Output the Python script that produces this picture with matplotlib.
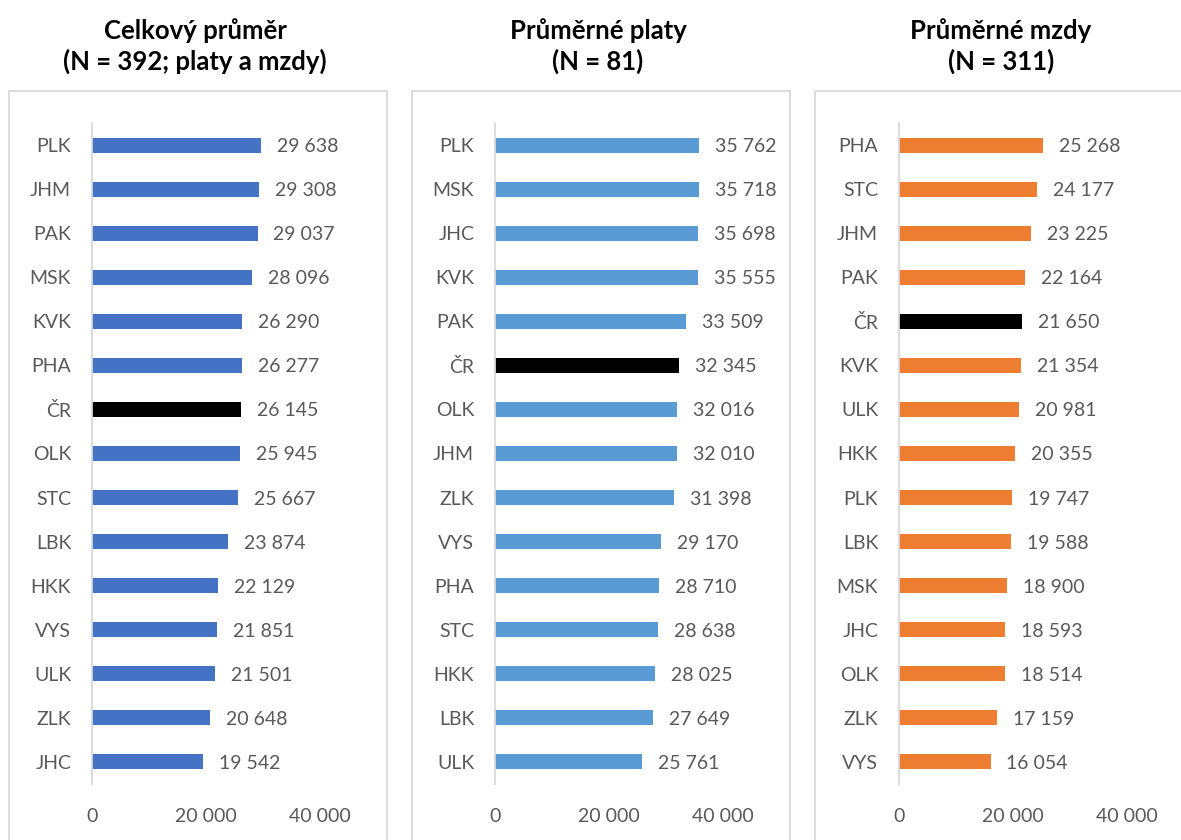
import matplotlib.pyplot as plt
from matplotlib.patches import Rectangle

# data
cats_all = ['PLK', 'JHM', 'PAK', 'MSK', 'KVK', 'PHA', 'ČR', 'OLK', 'STC', 'LBK',
            'HKK', 'VYS', 'ULK', 'ZLK', 'JHC']
vals_all = [29638, 29308, 29037, 28096, 26290, 26277, 26145, 25945, 25667, 23874,
            22129, 21851, 21501, 20648, 19542]

cats_platy = ['PLK', 'MSK', 'JHC', 'KVK', 'PAK', 'ČR', 'OLK', 'JHM', 'ZLK', 'VYS',
              'PHA', 'STC', 'HKK', 'LBK', 'ULK']
vals_platy = [35762, 35718, 35698, 35555, 33509, 32345, 32016, 32010, 31398, 29170,
              28710, 28638, 28025, 27649, 25761]

cats_mzdy = ['PHA', 'STC', 'JHM', 'PAK', 'ČR', 'KVK', 'ULK', 'HKK', 'PLK', 'LBK',
             'MSK', 'JHC', 'OLK', 'ZLK', 'VYS']
vals_mzdy = [25268, 24177, 23225, 22164, 21650, 21354, 20981, 20355, 19747, 19588,
             18900, 18593, 18514, 17159, 16054]

titles = ['Celkový průměr\n(N = 392; platy a mzdy)',
          'Průměrné platy\n(N = 81)',
          'Průměrné mzdy\n(N = 311)']
colors = ['#4472C4', '#5B9BD5', '#ED7D31']
xticks = [0, 20000, 40000]

W, H = 1181, 840
plt.rcParams['font.family'] = ['Lato', 'DejaVu Sans']
text_col = '#595959'
grid_col = '#D9D9D9'

fig = plt.figure(figsize=(W / 100, H / 100), dpi=100)

panels = [(cats_all, vals_all), (cats_platy, vals_platy), (cats_mzdy, vals_mzdy)]
ax_left = [92, 495, 899]
box_left = [9, 412, 815]
box_w = 378

def fmt(v):
    return '{:,}'.format(v).replace(',', ' ')

for i, (cats, vals) in enumerate(panels):
    # panel frame
    fig.patches.append(Rectangle((box_left[i] / W, -0.05), box_w / W, (H - 91) / H + 0.05,
                                 transform=fig.transFigure, fill=False,
                                 edgecolor=grid_col, linewidth=1.3))
    # title
    fig.text((box_left[i] + box_w / 2 - 3) / W, 1 - 46 / H, titles[i], ha='center', va='center',
             fontsize=18.5, fontweight='bold', color='black', linespacing=1.3)

    ax = fig.add_axes([ax_left[i] / W, (H - 784) / H, 228 / W, 661 / H])
    ypos = list(range(len(cats)))
    bar_cols = ['black' if c == 'ČR' else colors[i] for c in cats]
    ax.barh(ypos, vals, height=0.34, color=bar_cols)
    for y, v in zip(ypos, vals):
        ax.annotate(fmt(v), (v, y), xytext=(11.5, 0), textcoords='offset points',
                    ha='left', va='center_baseline', fontsize=14, color=text_col)
    ax.set_ylim(len(cats) - 0.5, -0.5)
    ax.set_xlim(0, 40000)
    ax.set_yticks(ypos)
    ax.set_yticklabels(cats, va='center_baseline')
    ax.set_xticks(xticks)
    ax.set_xticklabels([fmt(t) for t in xticks])
    ax.tick_params(axis='y', length=0, pad=15, labelsize=14, labelcolor=text_col)
    ax.tick_params(axis='x', length=0, pad=17, labelsize=14, labelcolor=text_col)
    for s in ['top', 'right', 'bottom']:
        ax.spines[s].set_visible(False)
    ax.spines['left'].set_color(grid_col)
    ax.spines['left'].set_linewidth(1.3)
    ax.set_facecolor('none')

plt.savefig('out.png', dpi=100)
